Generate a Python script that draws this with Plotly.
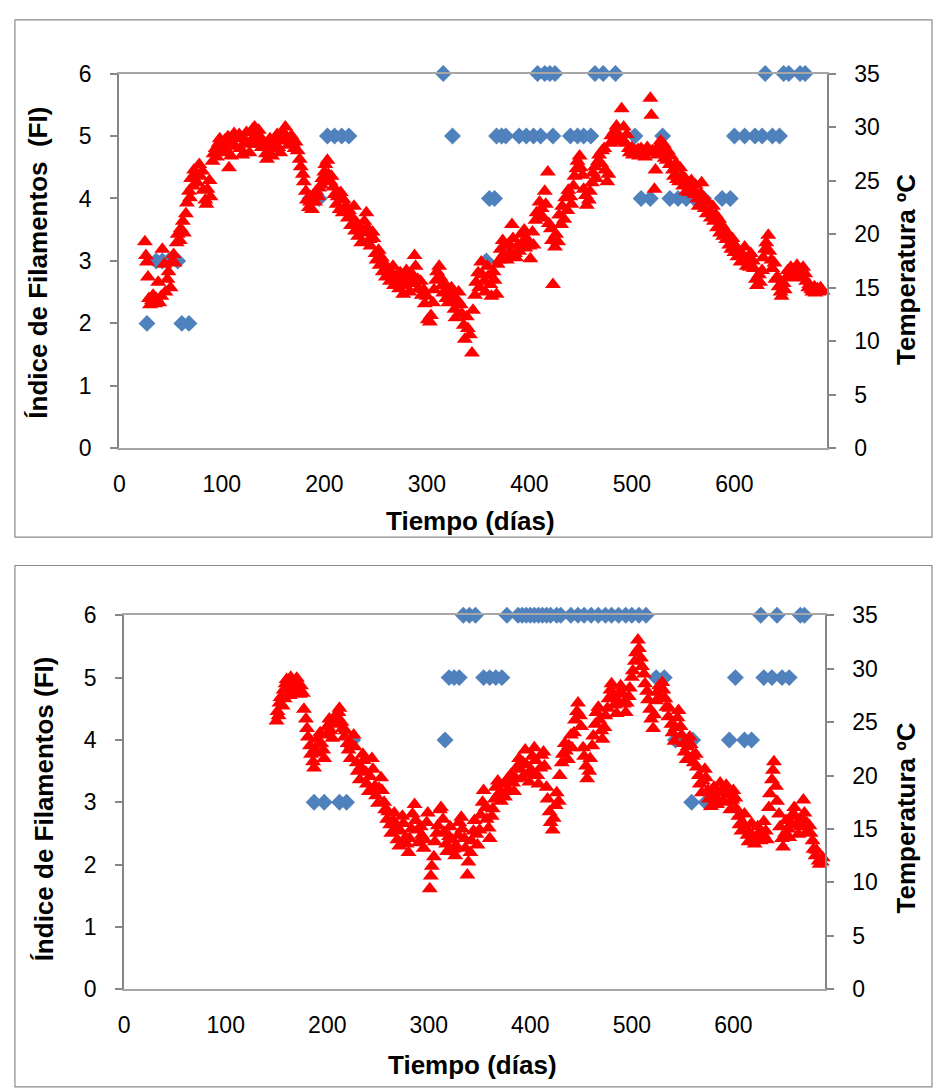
import plotly.graph_objects as go

# ---------------- Panel A (upper) ----------------
dias_temp_a = [
    25, 26, 27, 28, 29, 30, 32, 33, 35, 36, 38, 39,
    41, 42, 44, 45, 47, 48, 50, 51, 53, 54, 56, 57,
    59, 60, 62, 63, 65, 66, 68, 69, 70, 72, 73, 75,
    76, 78, 79, 81, 82, 84, 85, 86, 88, 89, 91, 92,
    94, 95, 97, 98, 100, 101, 103, 104, 106, 107, 109, 110,
    112, 113, 115, 117, 118, 120, 121, 123, 124, 126, 127, 129,
    130, 132, 133, 135, 136, 138, 139, 141, 143, 144, 146, 147,
    149, 150, 152, 154, 155, 157, 158, 160, 162, 163, 165, 166,
    168, 169, 171, 172, 174, 176, 177, 179, 180, 182, 183, 185,
    186, 188, 189, 191, 192, 194, 195, 197, 198, 200, 201, 203,
    204, 206, 207, 209, 210, 212, 213, 215, 216, 218, 219, 221,
    223, 224, 226, 227, 229, 230, 232, 233, 235, 236, 238, 239,
    241, 242, 244, 245, 247, 248, 250, 251, 253, 254, 256, 257,
    259, 260, 262, 264, 265, 267, 268, 270, 271, 273, 274, 276,
    277, 279, 280, 282, 283, 285, 286, 288, 289, 291, 292, 294,
    295, 297, 298, 300, 301, 303, 304, 306, 307, 309, 310, 312,
    313, 315, 316, 318, 319, 321, 322, 324, 325, 327, 328, 330,
    331, 333, 334, 336, 337, 339, 340, 342, 344, 345, 347, 348,
    350, 351, 353, 354, 356, 357, 359, 360, 362, 363, 365, 366,
    368, 369, 371, 372, 374, 375, 377, 378, 380, 381, 383, 384,
    386, 387, 389, 390, 392, 393, 395, 396, 398, 400, 401, 403,
    404, 406, 407, 409, 410, 412, 413, 415, 416, 418, 419, 421,
    422, 423, 425, 426, 428, 429, 431, 432, 434, 435, 437, 438,
    440, 441, 443, 444, 446, 447, 449, 450, 452, 453, 455, 456,
    458, 459, 461, 462, 464, 465, 467, 468, 470, 471, 473, 474,
    476, 477, 479, 480, 482, 483, 485, 486, 488, 489, 490, 492,
    494, 495, 497, 498, 500, 501, 503, 504, 506, 507, 509, 510,
    512, 513, 515, 516, 518, 519, 520, 522, 523, 525, 526, 528,
    529, 531, 532, 534, 535, 537, 538, 540, 541, 543, 544, 546,
    547, 549, 550, 552, 553, 555, 556, 558, 559, 561, 562, 564,
    565, 567, 568, 570, 571, 573, 574, 576, 577, 579, 580, 582,
    583, 585, 586, 588, 589, 591, 592, 594, 595, 597, 598, 600,
    601, 603, 604, 606, 607, 609, 610, 612, 613, 615, 616, 618,
    619, 621, 622, 624, 625, 627, 628, 630, 631, 633, 634, 636,
    637, 639, 640, 642, 643, 645, 646, 648, 649, 651, 652, 654,
    655, 657, 658, 660, 661, 663, 664, 666, 667, 669, 670, 672,
    673, 675, 676, 678, 679, 681, 682, 684, 686,
]
temp_a = [
    19.3, 18.0, 17.4, 16.0, 14.0, 13.4, 13.8, 14.3, 13.5, 14.0, 15.5, 13.6,
    14.2, 18.6, 17.2, 14.6, 15.8, 16.5, 15.0, 17.4, 18.1, 17.3, 19.2, 20.0,
    19.4, 20.5, 21.2, 20.1, 21.9, 22.9, 24.0, 23.4, 25.2, 24.5, 26.0, 25.6,
    24.8, 26.5, 25.4, 25.9, 24.1, 23.2, 22.8, 24.2, 25.0, 23.5, 26.8, 27.5,
    28.0, 27.2, 28.5, 28.9, 27.6, 28.3, 28.8, 27.9, 29.1, 26.2, 27.3, 28.5,
    29.4, 28.2, 28.9, 29.3, 28.0, 27.4, 29.0, 28.6, 29.5, 28.4, 27.6, 28.8,
    29.8, 30.0, 29.2, 28.4, 29.7, 29.0, 28.1, 28.5, 27.5, 27.0, 28.2, 28.9,
    27.3, 28.0, 28.8, 29.3, 28.1, 27.6, 28.7, 29.5, 30.0, 29.1, 28.3, 28.9,
    29.2, 28.5, 28.0, 28.6, 27.8, 27.0, 26.3, 25.6, 24.9, 24.0, 23.2, 22.5,
    23.0, 22.3, 23.6, 23.0, 24.0, 23.5, 24.3, 24.6, 25.2, 25.8, 26.5, 26.9,
    25.6, 24.9, 25.4, 24.4, 23.7, 22.8, 23.5, 22.3, 23.9, 22.0, 23.2, 22.6,
    21.5, 22.2, 20.8, 21.6, 22.6, 20.3, 21.0, 19.8, 20.5, 19.2, 20.1, 21.2,
    22.0, 20.6, 19.5, 18.9, 20.2, 19.6, 18.2, 17.6, 18.5, 17.1, 17.8, 16.5,
    17.2, 16.0, 16.8, 15.6, 16.3, 17.0, 15.2, 16.1, 15.5, 14.9, 16.4, 15.8,
    14.4, 15.2, 16.6, 15.9, 14.6, 15.4, 16.2, 18.0, 17.0, 15.8, 14.9, 15.6,
    14.3, 14.8, 13.5, 14.2, 12.0, 11.8, 12.4, 13.6, 14.8, 15.7, 16.5, 17.0,
    16.0, 15.2, 14.5, 15.3, 14.0, 13.6, 14.4, 15.0, 14.2, 13.0, 12.2, 13.8,
    14.6, 13.4, 12.6, 11.5, 10.2, 12.3, 11.2, 10.6, 8.9, 12.9, 14.3, 15.5,
    16.4, 15.0, 17.4, 16.2, 15.6, 14.6, 17.0, 16.1, 15.3, 14.2, 16.5, 15.7,
    14.4, 17.2, 17.6, 18.6, 19.4, 18.1, 18.9, 17.6, 19.1, 18.3, 20.9, 19.6,
    18.2, 17.8, 19.0, 18.4, 20.0, 19.2, 20.4, 18.7, 19.5, 18.9, 17.7, 20.2,
    19.0, 21.3, 22.0, 21.5, 23.0, 22.4, 21.6, 24.0, 22.8, 25.8, 21.0, 20.5,
    19.4, 15.3, 18.8, 20.0, 19.3, 21.8, 20.9, 22.6, 21.4, 23.4, 22.2, 24.1,
    23.5, 22.8, 24.5, 25.4, 26.1, 26.8, 27.3, 26.2, 25.5, 24.2, 23.6, 22.7,
    23.2, 24.0, 24.8, 25.7, 26.3, 25.2, 26.8, 27.4, 26.6, 27.8, 28.0, 26.0,
    24.9, 25.6, 28.5, 29.2, 28.8, 29.6, 30.1, 29.4, 28.6, 29.0, 31.7, 30.0,
    28.5, 29.3, 28.0, 27.6, 28.1, 27.4, 27.8, 27.5, 27.9, 27.3, 28.0, 27.5,
    27.7, 27.2, 28.1, 27.6, 32.7, 31.1, 27.8, 24.2, 26.0, 27.4, 28.2, 28.7,
    27.6, 28.4, 27.1, 26.9, 27.8, 26.5, 27.3, 26.0, 25.4, 26.6, 25.1, 24.9,
    26.2, 25.5, 24.5, 25.2, 24.0, 24.7, 23.9, 25.0, 24.3, 23.7, 24.6, 23.3,
    22.6, 23.8, 24.8, 23.1, 22.4, 21.9, 23.0, 22.1, 21.5, 22.6, 21.2, 21.8,
    20.6, 21.4, 20.1, 20.8, 19.8, 20.3, 19.5, 20.0, 19.0, 18.6, 19.6, 18.3,
    18.9, 17.9, 18.5, 17.4, 18.2, 17.6, 18.8, 17.0, 17.8, 16.9, 18.2, 17.5,
    16.8, 15.8, 15.2, 16.2, 15.5, 16.6, 17.8, 18.6, 19.2, 19.9, 18.4, 17.6,
    16.8, 17.3, 15.8, 16.0, 15.1, 14.6, 14.2, 15.4, 14.8, 16.0, 16.6, 16.2,
    16.9, 16.4, 15.9, 16.7, 17.1, 16.5, 16.0, 16.6, 16.9, 16.3, 15.6, 15.0,
    15.3, 14.8, 14.6, 15.1, 14.5, 14.9, 14.6, 15.0, 14.7,
]
dias_fi_a = [
    27, 36, 42, 48, 57, 61, 68, 186, 195, 203, 210, 217,
    224, 316, 325, 358, 361, 366, 368, 373, 377, 390, 397, 404,
    408, 411, 415, 420, 425, 423, 440, 447, 453, 460, 464, 472,
    484, 503, 509, 518, 530, 537, 545, 553, 561, 570, 588, 596,
    600, 610, 620, 627, 637, 644, 630, 648, 653, 664, 669,
]
fi_a = [
    2, 3, 3, 3, 3, 2, 2, 4, 4, 5, 5, 5,
    5, 6, 5, 3, 4, 4, 5, 5, 5, 5, 5, 5,
    6, 5, 6, 6, 6, 5, 5, 5, 5, 5, 6, 6,
    6, 5, 4, 4, 5, 4, 4, 4, 4, 4, 4, 4,
    5, 5, 5, 5, 5, 5, 6, 6, 6, 6, 6,
]

# ---------------- Panel B (lower) ----------------
dias_temp_b = [
    150, 151, 152, 153, 154, 156, 157, 158, 159, 160, 162, 163,
    164, 166, 167, 168, 170, 171, 173, 174, 176, 177, 179, 180,
    181, 183, 184, 186, 187, 188, 190, 191, 193, 194, 196, 197,
    199, 200, 202, 203, 205, 206, 208, 209, 211, 212, 214, 215,
    217, 218, 220, 221, 223, 224, 226, 227, 229, 230, 232, 233,
    235, 236, 238, 239, 241, 242, 244, 245, 247, 248, 250, 251,
    253, 254, 256, 257, 259, 260, 262, 263, 265, 266, 268, 269,
    271, 272, 274, 275, 277, 278, 280, 281, 283, 284, 286, 287,
    289, 290, 292, 293, 295, 296, 298, 299, 301, 302, 303, 305,
    306, 308, 309, 311, 312, 314, 315, 317, 318, 320, 321, 323,
    324, 326, 327, 329, 330, 332, 333, 335, 336, 338, 339, 341,
    342, 344, 345, 347, 348, 350, 351, 353, 354, 356, 357, 359,
    360, 362, 363, 365, 366, 368, 369, 371, 372, 374, 375, 377,
    378, 380, 381, 383, 384, 386, 387, 389, 390, 392, 393, 395,
    396, 398, 399, 401, 402, 404, 405, 407, 408, 410, 411, 413,
    414, 416, 417, 419, 420, 422, 423, 425, 426, 428, 429, 431,
    432, 434, 435, 437, 438, 440, 441, 443, 444, 446, 447, 449,
    450, 452, 453, 455, 456, 458, 459, 461, 462, 464, 465, 467,
    468, 470, 471, 473, 474, 476, 477, 479, 480, 482, 483, 485,
    486, 488, 489, 491, 492, 494, 495, 497, 498, 500, 501, 503,
    504, 506, 507, 509, 510, 512, 513, 515, 516, 518, 519, 521,
    522, 524, 525, 527, 528, 530, 531, 533, 534, 536, 537, 539,
    540, 542, 543, 545, 546, 548, 549, 551, 552, 554, 555, 557,
    558, 560, 561, 563, 564, 566, 567, 569, 570, 572, 573, 575,
    576, 578, 579, 581, 582, 584, 585, 587, 588, 590, 591, 593,
    594, 596, 597, 599, 600, 602, 603, 605, 606, 608, 609, 611,
    612, 614, 615, 617, 618, 620, 621, 623, 624, 626, 627, 629,
    630, 632, 633, 635, 636, 638, 639, 640, 642, 643, 645, 646,
    648, 649, 651, 652, 654, 655, 657, 658, 660, 661, 663, 664,
    666, 667, 669, 670, 672, 673, 675, 676, 678, 679, 681, 682,
    684, 685, 687, 688,
]
temp_b = [
    25.1, 26.0, 25.6, 26.8, 27.3, 26.5, 28.0, 27.2, 28.6, 29.0, 28.3, 27.5,
    29.2, 28.8, 27.9, 28.5, 29.1, 28.2, 27.6, 28.4, 27.7, 26.2, 25.3, 24.4,
    23.6, 22.8, 22.0, 21.3, 20.7, 22.5, 23.4, 22.1, 24.0, 23.0, 22.4, 21.6,
    23.8, 24.6, 25.3, 24.2, 23.5, 24.8, 25.6, 24.9, 25.9, 26.3, 25.0, 24.4,
    23.6, 24.2, 23.0, 22.4, 21.6, 22.9, 23.8, 22.7, 21.2, 20.4, 19.6, 20.8,
    22.0, 21.4, 20.3, 19.2, 18.5, 19.9, 21.6, 20.6, 19.0, 18.1, 17.4, 18.8,
    19.8, 18.6, 17.5, 16.8, 15.9, 16.6, 15.4, 14.6, 15.8, 16.5, 15.1, 14.0,
    13.4, 14.8, 16.2, 15.5, 14.2, 13.6, 12.8, 14.1, 15.0, 16.4, 17.3, 15.8,
    14.9, 13.7, 15.2, 14.4, 13.2, 14.0, 15.6, 16.5, 9.4, 10.6, 11.5, 12.4,
    13.8, 14.6, 15.3, 16.8, 17.0, 15.9, 14.7, 13.6, 12.9, 14.3, 15.2, 14.0,
    13.1, 12.5, 13.4, 14.4, 15.6, 16.1, 15.0, 14.1, 13.2, 10.7, 11.9, 12.8,
    13.9, 14.8, 15.8, 14.5, 13.5, 14.9, 16.3, 17.5, 18.6, 17.0, 15.9, 15.1,
    14.1, 16.2, 16.9, 17.8, 18.9, 19.5, 18.3, 17.6, 18.4, 19.2, 18.0, 19.6,
    18.7, 19.9, 20.1, 19.3, 18.5, 19.7, 20.8, 21.6, 20.6, 19.8, 21.2, 22.4,
    21.0, 20.2, 19.4, 20.5, 21.8, 22.6, 21.4, 20.0, 19.2, 20.7, 21.9, 22.2,
    20.9, 18.9, 17.8, 16.6, 15.6, 14.9, 16.0, 17.2, 18.4, 17.6, 20.0, 21.2,
    22.0, 23.0, 22.3, 21.5, 22.8, 23.8, 22.6, 24.0, 25.2, 26.0, 26.8, 25.6,
    24.6, 22.6, 21.8, 20.9, 19.7, 20.4, 21.6, 22.8, 23.7, 24.8, 25.9, 26.4,
    25.2, 24.2, 23.4, 24.5, 25.6, 26.3, 27.2, 28.0, 28.6, 27.5, 26.6, 25.8,
    26.9, 27.8, 28.4, 27.6, 26.7, 25.9, 26.8, 27.4, 28.2, 29.2, 29.8, 30.7,
    31.5, 32.7, 31.9, 31.0, 30.2, 29.5, 28.6, 27.9, 27.1, 26.2, 25.3, 24.4,
    25.7, 27.0, 27.8, 28.4, 27.3, 28.7, 28.0, 27.2, 26.4, 25.5, 26.3, 24.8,
    24.0, 23.2, 24.5, 25.4, 26.1, 24.6, 23.8, 23.0, 22.2, 21.5, 22.7, 23.6,
    22.9, 21.8, 21.2, 22.0, 20.8, 20.0, 19.2, 18.4, 19.5, 20.6, 19.8, 18.6,
    17.8, 17.1, 18.2, 18.9, 18.0, 17.3, 18.4, 19.3, 18.5, 17.6, 18.8, 19.1,
    18.2, 17.5, 16.8, 17.7, 18.6, 17.9, 16.9, 16.2, 15.4, 14.8, 15.6, 16.4,
    15.1, 14.4, 13.8, 14.6, 15.5, 14.0, 13.6, 14.3, 15.2, 14.7, 13.9, 14.5,
    15.7, 14.8, 14.0, 17.0, 18.3, 19.6, 20.5, 21.3, 19.0, 17.6, 16.4, 15.2,
    14.1, 13.3, 14.6, 15.8, 15.0, 14.2, 15.5, 16.3, 17.0, 16.2, 15.4, 14.5,
    15.2, 16.0, 17.7, 16.5, 15.6, 14.8, 15.3, 14.6, 13.9, 13.1, 12.5, 13.0,
    12.0, 11.7, 11.9, 12.3,
]
dias_fi_b = [
    187, 197, 212, 219, 225, 316, 320, 325, 330, 334, 340, 346,
    354, 360, 366, 372, 377, 388, 392, 396, 400, 404, 408, 412,
    416, 420, 426, 430, 440, 447, 453, 460, 467, 474, 480, 487,
    494, 500, 507, 514, 524, 532, 543, 551, 560, 559, 573, 596,
    602, 611, 618, 627, 630, 638, 643, 648, 655, 666, 670,
]
fi_b = [
    3, 3, 3, 3, 4, 4, 5, 5, 5, 6, 6, 6,
    5, 5, 5, 5, 6, 6, 6, 6, 6, 6, 6, 6,
    6, 6, 6, 6, 6, 6, 6, 6, 6, 6, 6, 6,
    6, 6, 6, 6, 5, 5, 4, 4, 4, 3, 3, 4,
    5, 4, 4, 6, 5, 5, 6, 5, 5, 6, 6,
]

# ---------------- Styling ----------------
W, H = 934, 1092
AZUL = "#4F81BD"
ROJO = "#FF0000"
GRIS_EJE = "#868686"
GRIS_BORDE = "#8C8C8C"
FUENTE = "Liberation Sans, Arial, sans-serif"
TICK_FONT = dict(family=FUENTE, size=23, color="black")


def fx(px):
    return px / W


def fy(px):
    return 1 - px / H


fig = go.Figure()

fig.add_trace(go.Scatter(
    x=dias_fi_a, y=fi_a, mode="markers", xaxis="x", yaxis="y",
    marker=dict(symbol="diamond", size=13, color=AZUL), cliponaxis=False))
fig.add_trace(go.Scatter(
    x=dias_temp_a, y=temp_a, mode="markers", xaxis="x", yaxis="y2",
    marker=dict(symbol="triangle-up", size=14, color=ROJO), cliponaxis=False))
fig.add_trace(go.Scatter(
    x=dias_fi_b, y=fi_b, mode="markers", xaxis="x2", yaxis="y3",
    marker=dict(symbol="diamond", size=13, color=AZUL), cliponaxis=False))
fig.add_trace(go.Scatter(
    x=dias_temp_b, y=temp_b, mode="markers", xaxis="x2", yaxis="y4",
    marker=dict(symbol="triangle-up", size=14, color=ROJO), cliponaxis=False))


def eje_x(dom, anchor):
    return dict(
        domain=dom, anchor=anchor, range=[0, 690],
        tickvals=[0, 100, 200, 300, 400, 500, 600],
        ticks="", showline=True, linecolor="#A6A6A6", linewidth=1.5,
        mirror=True, showgrid=False, zeroline=False,
        tickfont=TICK_FONT, ticklabelstandoff=14,
    )


def eje_y(dom, anchor, rng, vals, side="left", overlay=None):
    d = dict(
        anchor=anchor, range=rng, tickvals=vals, side=side,
        ticks="outside", ticklen=7, tickwidth=1.5, tickcolor=GRIS_EJE,
        showline=True, linecolor=GRIS_EJE, linewidth=2,
        showgrid=False, zeroline=False, tickfont=TICK_FONT,
        ticklabelstandoff=14,
    )
    if overlay:
        d["overlaying"] = overlay
    else:
        d["domain"] = dom
    return d


top_x = [fx(114), fx(826)]
top_y = [fy(446), fy(62)]
bot_x = [fx(119), fx(824)]
bot_y = [fy(1000), fy(617)]

fi_ticks = [0, 1, 2, 3, 4, 5, 6]
t_ticks = [0, 5, 10, 15, 20, 25, 30, 35]

fig.update_layout(
    width=W, height=H,
    margin=dict(l=0, r=0, t=0, b=0),
    paper_bgcolor="white", plot_bgcolor="white",
    showlegend=False,
    xaxis=eje_x(top_x, "y"),
    yaxis=eje_y(top_y, "x", [0, 6], fi_ticks),
    yaxis2=eje_y(None, "x", [0, 35], t_ticks, side="right", overlay="y"),
    xaxis2=eje_x(bot_x, "y3"),
    yaxis3=eje_y(bot_y, "x2", [0, 6], fi_ticks),
    yaxis4=eje_y(None, "x2", [0, 35], t_ticks, side="right", overlay="y3"),
)

# Chart-area frames
fig.add_shape(type="rect", xref="paper", yref="paper",
              x0=fx(9), x1=fx(932), y0=fy(537), y1=fy(7),
              line=dict(color=GRIS_BORDE, width=1.2), layer="below")
fig.add_shape(type="rect", xref="paper", yref="paper",
              x0=fx(9), x1=fx(932), y0=fy(1100), y1=fy(566),
              line=dict(color=GRIS_BORDE, width=1.2), layer="below")

TITLE_FONT = dict(family=FUENTE, size=26, color="black")


def titulo(texto, x, y, angle=0):
    fig.add_annotation(
        text="<b>" + texto + "</b>", x=fx(x), y=fy(y), xref="paper", yref="paper",
        showarrow=False, textangle=angle, font=TITLE_FONT,
        xanchor="center", yanchor="middle")


titulo("Índice de Filamentos  (FI)", 32, 256, -90)
titulo("Temperatura ºC", 906, 263, -90)
titulo("Tiempo (días)", 467, 520)
titulo("Índice de Filamentos (FI)", 38, 815, -90)
titulo("Temperatura ºC", 906, 825, -90)
titulo("Tiempo (días)", 470, 1078)

fig.write_html("out.html")
